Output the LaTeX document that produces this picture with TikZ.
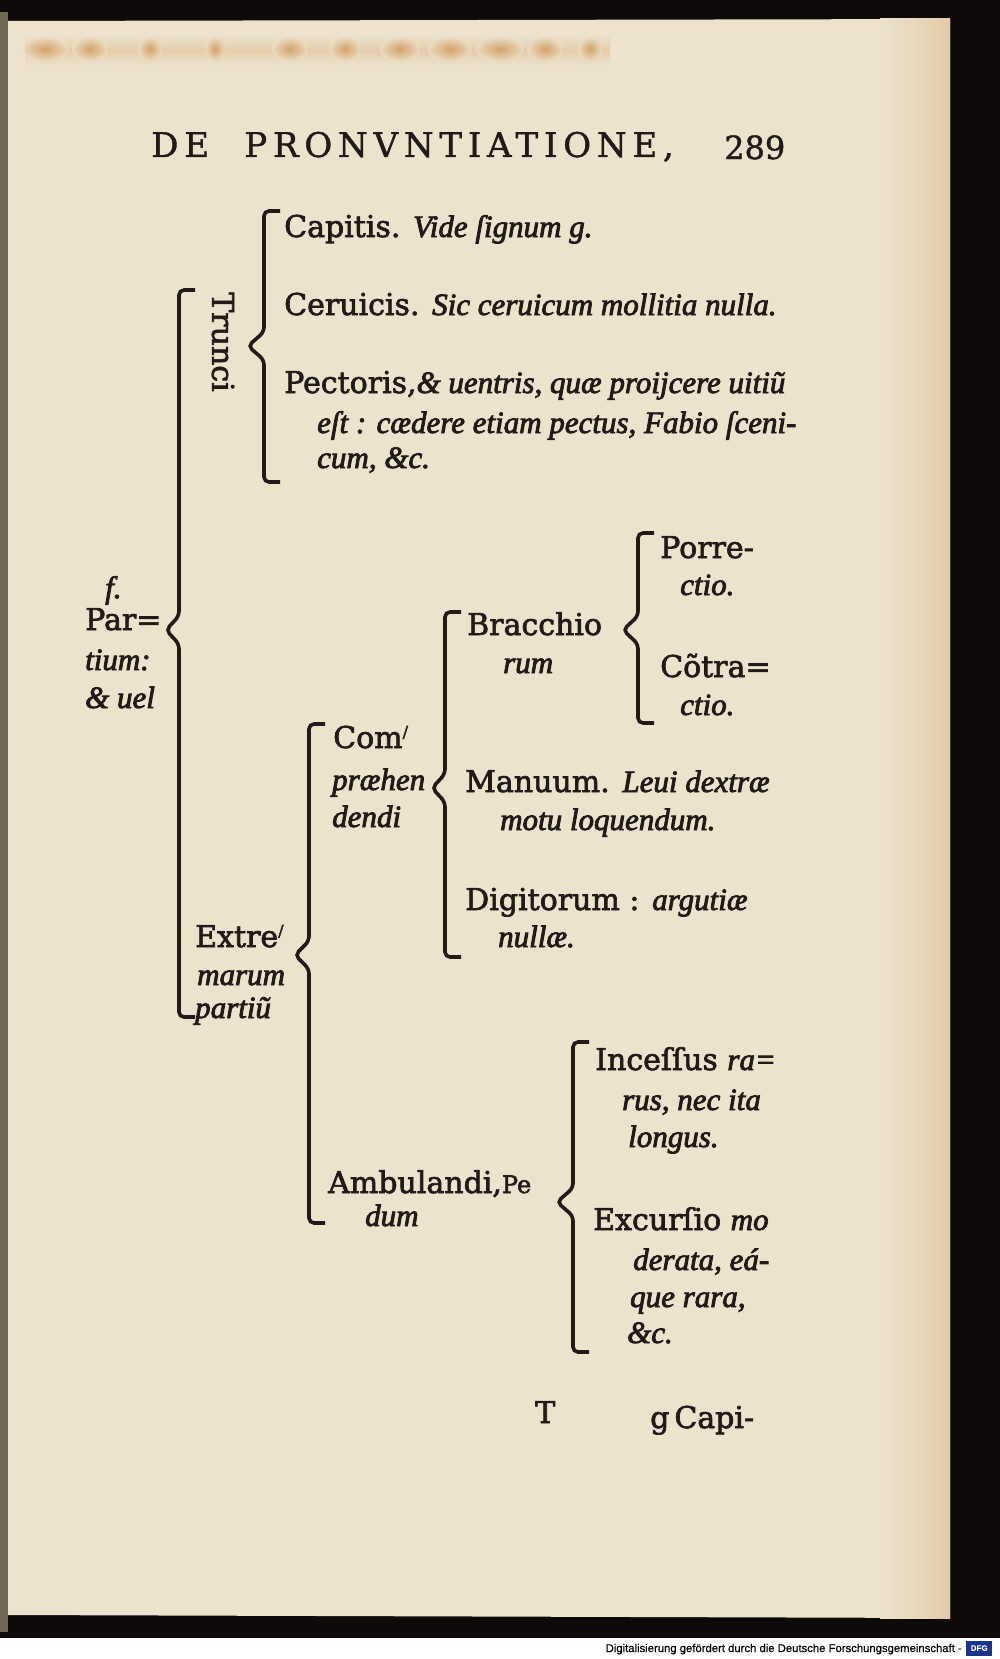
\documentclass[tikz,border=0pt]{standalone}
\usepackage{fontspec}
\setmainfont{DejaVu Serif}[FakeBold=2.2]
\newfontfamily\itfam{Liberation Serif}[FakeBold=2.6]
\newfontfamily\headfam{DejaVu Serif}[LetterSpace=17, FakeBold=1.2]
\newfontfamily\foliofam{DejaVu Serif}[FakeBold=1.2]
\newfontfamily\dfgfam{Liberation Sans}[FakeBold=0.4]
\usetikzlibrary{calc}
\definecolor{ink}{RGB}{34,26,22}
\definecolor{paper}{RGB}{237,227,205}
\definecolor{frame}{RGB}{14,10,10}
\definecolor{stain}{RGB}{205,140,70}
\definecolor{spine}{RGB}{112,104,84}
\definecolor{dfgblue}{RGB}{24,52,140}
\newcommand\rox{\fontsize{30}{34}\selectfont}
\newcommand\itx[1]{{\itfam\itshape\fontsize{31}{34}\selectfont #1}}
\newcommand\vg{\raisebox{0.35em}{\fontsize{16}{16}\selectfont /}}
% bracket: top coordinate, tip coordinate, bottom coordinate
\newcommand\brk[3]{%
  \draw[brk] ($(#1)+(16,0)$) -- (#1) -- ($(#1|-#2)+(0,-14)$) -- (#2)
    -- ($(#1|-#2)+(0,14)$) -- (#3) -- ($(#3)+(16,0)$);}

\begin{document}
\begin{tikzpicture}[x=1pt,y=-1pt,
  rom/.style={font=\rox, text=ink, anchor=base west, inner sep=0pt},
  ita/.style={font=\itfam\itshape\fontsize{31}{34}\selectfont, text=ink, anchor=base west, inner sep=0pt},
  brk/.style={draw=ink, line width=3.6pt, rounded corners=5pt}
]
\useasboundingbox (0,0) rectangle (1000,1659);

% scan: frame, page, stains
\fill[frame] (0,0) rectangle (1000,1638);
\fill[white] (0,1638) rectangle (1000,1659);
\fill[spine] (0,12) rectangle (8,1632);
\fill[paper] (8,21) -- (950,19) -- (950,1618) -- (8,1615) -- cycle;
\shade[left color=paper, right color=stain!28!paper] (880,19) rectangle (950,1618);
\shade[top color=paper, bottom color=paper, middle color=stain!35!paper, opacity=.7] (25,34) rectangle (610,66);
\foreach \sx/\sw in {45/24,90/18,150/12,215/10,290/18,345/16,400/20,450/22,500/24,545/18,590/12}
  \shade[inner color=stain, outer color=paper, opacity=.65] (\sx,49) ellipse [x radius=\sw, y radius=13];

% running head
\node[rom, font=\headfam\fontsize{34}{36}\selectfont] (head) at (151,157) {DE\hspace{0.55em} PRONVNTIATIONE,};
\node[rom, font=\foliofam\fontsize{32}{34}\selectfont] (folio) at (724,159) {289};

% Trunci
\node[rom, anchor=center, rotate=-90] (trunci) at (223,342) {Trunci};
\node[rom] (capitis) at (284,237) {Capitis. \itx{Vide ſignum g.}};
\node[rom] (ceruicis) at (284,315) {Ceruicis. \itx{Sic ceruicum mollitia nulla.}};
\node[rom] (pect1) at (284,393) {Pectoris,\itx{\& uentris, quæ proijcere uitiũ}};
\node[ita] (pect2) at (317,433) {eſt : cædere etiam pectus, Fabio ſceni-};
\node[ita] (pect3) at (317,468) {cum, \&c.};

% Partium
\node[ita] (signf) at (105,598) {f.};
\node[rom] (par1) at (85,630) {Par=};
\node[ita] (par2) at (85,670) {tium:};
\node[ita] (par3) at (85,708) {\& uel};

% Extremarum partium
\node[rom] (extr1) at (195,947) {Extre\vg};
\node[ita] (extr2) at (197,985) {marum};
\node[ita] (extr3) at (195,1018) {partiũ};

% Comprehendendi
\node[rom] (comp1) at (333,748) {Com\vg};
\node[ita] (comp2) at (332,790) {præhen};
\node[ita] (comp3) at (332,827) {dendi};

\node[rom] (brac1) at (467,635) {Bracchio};
\node[ita] (brac2) at (503,673) {rum};
\node[rom] (porr1) at (660,558) {Porre-};
\node[ita] (porr2) at (680,595) {ctio.};
\node[rom] (cotr1) at (660,677) {Cõtra=};
\node[ita] (cotr2) at (680,715) {ctio.};

\node[rom] (manu1) at (465,792) {Manuum. \itx{Leui dextræ}};
\node[ita] (manu2) at (500,830) {motu loquendum.};
\node[rom] (digi1) at (465,910) {Digitorum : \itx{argutiæ}};
\node[ita] (digi2) at (498,947) {nullæ.};

% Ambulandi
\node[rom] (ambu1) at (328,1193) {Ambulandi,{\fontsize{24}{26}\selectfont Pe}};
\node[ita] (ambu2) at (365,1226) {dum};
\node[rom] (ince1) at (595,1070) {Inceſſus \itx{ra=}};
\node[ita] (ince2) at (622,1110) {rus, nec ita};
\node[ita] (ince3) at (628,1147) {longus.};
\node[rom] (excu1) at (593,1230) {Excurſio \itx{mo}};
\node[ita] (excu2) at (633,1270) {derata, eá-};
\node[ita] (excu3) at (630,1307) {que rara,};
\node[ita] (excu4) at (627,1343) {\&c.};

% signature and catchword
\node[rom] (sig) at (535,1423) {T};
\node[rom] (custos) at (650,1428) {g\,Capi-};

% brackets
\coordinate (trT) at (264,211); \coordinate (trM) at (248,346); \coordinate (trB) at (264,482);
\coordinate (paT) at (179,290); \coordinate (paM) at (166,630); \coordinate (paB) at (179,1017);
\coordinate (exT) at (309,724); \coordinate (exM) at (295,955); \coordinate (exB) at (309,1223);
\coordinate (coT) at (445,612); \coordinate (coM) at (432,788); \coordinate (coB) at (445,957);
\coordinate (brT) at (638,533); \coordinate (brM) at (623,630); \coordinate (brB) at (638,723);
\coordinate (amT) at (573,1042); \coordinate (amM) at (557,1202); \coordinate (amB) at (573,1352);
\brk{trT}{trM}{trB}
\brk{paT}{paM}{paB}
\brk{exT}{exM}{exB}
\brk{coT}{coM}{coB}
\brk{brT}{brM}{brB}
\brk{amT}{amM}{amB}

% digitisation note
\node[font=\dfgfam\fontsize{11.3}{13}\selectfont, anchor=base east, inner sep=0pt] (dfgtxt) at (962,1652) {Digitalisierung gefördert durch die Deutsche Forschungsgemeinschaft -};
\node[fill=dfgblue, text=white, font=\dfgfam\bfseries\fontsize{8}{9}\selectfont, inner sep=1pt, minimum width=26pt, minimum height=15pt, anchor=west] (dfglogo) at (966,1648) {DFG};
\end{tikzpicture}
\end{document}
